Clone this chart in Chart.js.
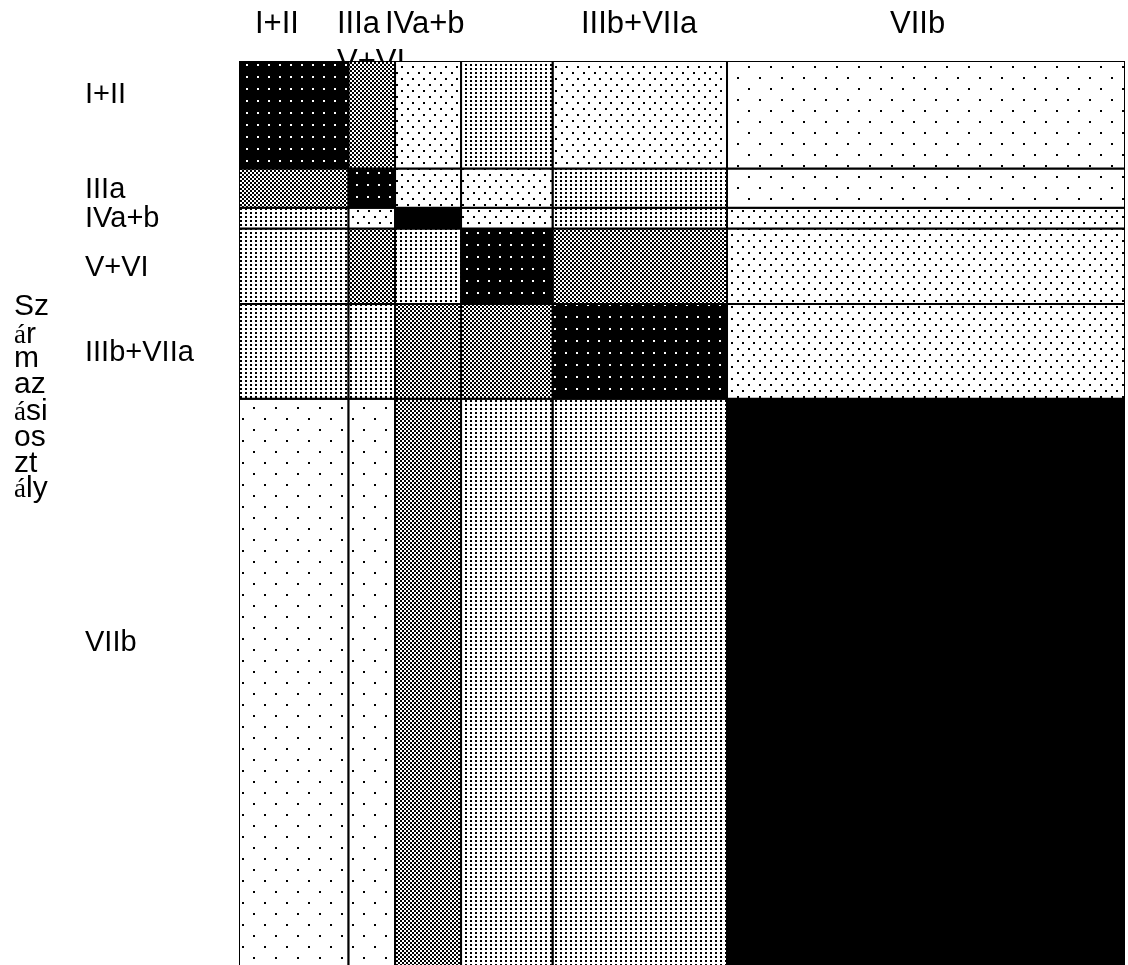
<!DOCTYPE html>
<html>
<head>
<meta charset="utf-8">
<script src="https://cdn.jsdelivr.net/npm/chart.js@4.4.0/dist/chart.umd.min.js"></script>
<style>
html,body{margin:0;padding:0;background:#fff;overflow:hidden}
#c{display:block}
</style>
</head>
<body>
<canvas id="c" width="1128" height="965"></canvas>
<script>
// ---- data ----
const originClasses = ['I+II', 'IIIa', 'IVa+b', 'V+VI', 'IIIb+VIIa', 'VIIb'];
const destClasses   = ['I+II', 'IIIa', 'IVa+b', 'V+VI', 'IIIb+VIIa', 'VIIb'];
// destination (column) shares, %
const destShares   = [12.34, 5.27, 7.45, 10.33, 19.69, 44.92];
// origin (row) shares, %
const originShares = [10.83, 3.93, 2.11, 7.60, 9.52, 66.01];
// shading level of each cell (row = origin, column = destination): 2 light ... 7 solid black
const shadeLevels = [
  [6, 5, 3, 4, 3, 2],
  [5, 6, 3, 3, 4, 2],
  [4, 3, 7, 3, 4, 3],
  [4, 5, 4, 6, 5, 3],
  [4, 4, 5, 5, 6, 3],
  [2, 2, 5, 4, 4, 7]
];
const yTitleLines = ['Sz', 'ár', 'm', 'az', 'ási', 'os', 'zt', 'ály'];

// ---- patterns ----
const canvas = document.getElementById('c');
const ctx = canvas.getContext('2d');
function tile(w, h, bg, fg, dots) {
  const c = document.createElement('canvas');
  c.width = w; c.height = h;
  const g = c.getContext('2d');
  g.fillStyle = bg; g.fillRect(0, 0, w, h);
  g.fillStyle = fg;
  dots.forEach(d => g.fillRect(d[0], d[1], d[2], d[3]));
  return ctx.createPattern(c, 'repeat');
}
const fills = {
  1: '#ffffff',
  2: tile(22, 22, '#fff', '#000', [[0, 0, 2, 2], [11, 11, 2, 2]]),
  3: tile(11, 12, '#fff', '#000', [[0, 0, 2, 2], [5, 6, 2, 2]]),
  4: tile(5, 4, '#fff', '#000', [[0, 0, 2, 2]]),
  5: tile(4, 4, '#fff', '#000', [[0, 0, 2, 2], [2, 2, 2, 2]]),
  6: tile(11, 12, '#000', '#fff', [[4, 4, 2, 2]]),
  7: '#000000'
};

// ---- build cells ----
function cumulative(arr) {
  const out = [0];
  arr.forEach(v => out.push(out[out.length - 1] + v));
  return out;
}
const xEdges = cumulative(destShares);
const yEdges = cumulative(originShares);
const datasets = [];
originClasses.forEach((o, r) => {
  destClasses.forEach((d, c) => {
    const x0 = xEdges[c], x1 = xEdges[c + 1], y0 = yEdges[r], y1 = yEdges[r + 1];
    datasets.push({
      label: o + ' → ' + d,
      data: [{x: x0, y: y0}, {x: x1, y: y0}, {x: x1, y: y1}, {x: x0, y: y1}, {x: x0, y: y0}],
      showLine: true,
      fill: 'shape',
      backgroundColor: fills[shadeLevels[r][c]],
      borderColor: '#000',
      borderWidth: 2,
      pointRadius: 0,
      pointHoverRadius: 0,
      tension: 0
    });
  });
});

// ---- text plugin ----
const SANS = '"Liberation Sans", Arial, sans-serif';
const SERIF = '"Liberation Serif", "Times New Roman", serif';
const textPlugin = {
  id: 'mosaicText',
  beforeDatasetsDraw(chart) {
    const g = chart.ctx;
    g.save();
    g.fillStyle = '#000';
    g.textBaseline = 'alphabetic';
    g.textAlign = 'left';
    // column headers (text box wrapping like the original)
    g.font = '31px ' + SANS;
    const headerPos = [[255, 33], [337, 33], [385, 33], [337, 71], [581, 33], [890, 33]];
    destClasses.forEach((t, i) => g.fillText(t, headerPos[i][0], headerPos[i][1]));
    // row labels
    g.font = '29px ' + SANS;
    const rowBase = [103, 198, 227, 276, 361, 651];
    originClasses.forEach((t, i) => g.fillText(t, 85, rowBase[i]));
    // vertical axis title, broken into short lines
    const tb = [315, 343, 367, 393, 420, 446, 472, 497];
    yTitleLines.forEach((t, i) => {
      let x = 14;
      if (t.charAt(0) === 'á') {
        g.font = '27px ' + SERIF;
        g.fillText('á', x, tb[i]);
        x += g.measureText('á').width;
        t = t.slice(1);
      }
      g.font = '30px ' + SANS;
      g.fillText(t, x, tb[i]);
    });
    g.restore();
  }
};

new Chart(ctx, {
  type: 'scatter',
  data: {datasets},
  options: {
    responsive: false,
    animation: false,
    events: [],
    layout: {padding: {left: 239, top: 61, right: 3, bottom: 0}},
    scales: {
      x: {type: 'linear', min: 0, max: 100, display: false},
      y: {type: 'linear', min: 0, max: 91.0, reverse: true, display: false}
    },
    plugins: {
      legend: {display: false},
      tooltip: {enabled: false},
      title: {display: false}
    }
  },
  plugins: [textPlugin]
});
</script>
</body>
</html>
